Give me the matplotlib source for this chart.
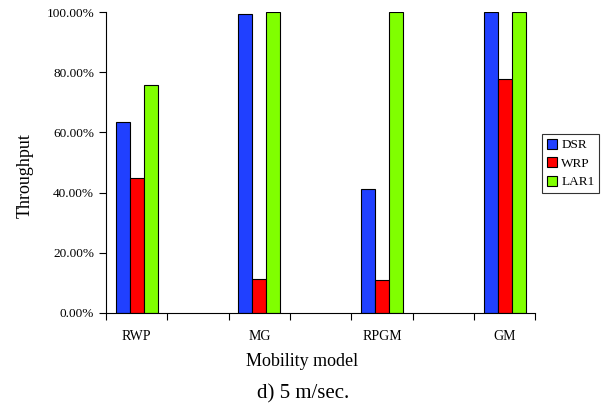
import numpy as np
import matplotlib
matplotlib.use("Agg")
import matplotlib.pyplot as plt
from matplotlib.ticker import FuncFormatter

models = ["RWP", "MG", "RPGM", "GM"]
series = ["DSR", "WRP", "LAR1"]
dsr = [63.4, 99.2, 41.2, 100.0]
wrp = [44.7, 11.3, 11.0, 77.7]
lar1 = [75.7, 100.0, 100.0, 100.0]
colors = ["#2040ff", "#ff0000", "#80ff00"]

plt.rcParams['font.family'] = ['Liberation Serif', 'DejaVu Serif']

fig = plt.figure(figsize=(6.04, 4.07), dpi=100)
ax = fig.add_axes([0.1755, 0.231, 0.711, 0.7395])

# every model sits on even positions, empty slots in between
pos = np.arange(len(models)) * 2
w = 0.228
for i, (vals, name) in enumerate(zip([dsr, wrp, lar1], series)):
    ax.bar(pos + (i - 1) * w, vals, w, color=colors[i], edgecolor="black",
           linewidth=0.8, label=name)

ax.set_xlim(-0.5, pos[-1] + 0.5)
ax.set_ylim(0, 100)
ax.set_xticks(np.arange(-0.5, pos[-1] + 1, 1.0))
ax.set_xticklabels([])
ax.set_xticks(pos, minor=True)
ax.set_xticklabels(models, minor=True, fontsize=10)
ax.tick_params(axis="x", which="minor", length=0, pad=12)
ax.tick_params(axis="x", which="major", length=5, direction="out")
ax.set_yticks(np.arange(0, 101, 20))
ax.yaxis.set_major_formatter(FuncFormatter(lambda v, p: f"{v:.2f}%"))
ax.tick_params(axis="y", labelsize=9.5, length=5, direction="out")

for s in ["top", "right"]:
    ax.spines[s].set_visible(False)

ax.set_ylabel("Throughput", fontsize=13, labelpad=10)
ax.yaxis.set_label_coords(-0.169, 0.455)
fig.text(0.5, 1 - 362 / 407, "Mobility model", ha="center", va="center", fontsize=13)
fig.text(0.502, 1 - 394 / 407, "d) 5 m/sec.", ha="center", va="center", fontsize=15)

leg = ax.legend(loc="upper left", bbox_to_anchor=(542 / 604, 1 - 134 / 407),
                bbox_transform=fig.transFigure, fontsize=9.5, frameon=True,
                fancybox=False, edgecolor="black", borderpad=0.35,
                handlelength=0.8, handleheight=0.8, handletextpad=0.3,
                labelspacing=0.45, borderaxespad=0)
leg.get_frame().set_linewidth(0.8)

fig.savefig("out.png", dpi=100)
